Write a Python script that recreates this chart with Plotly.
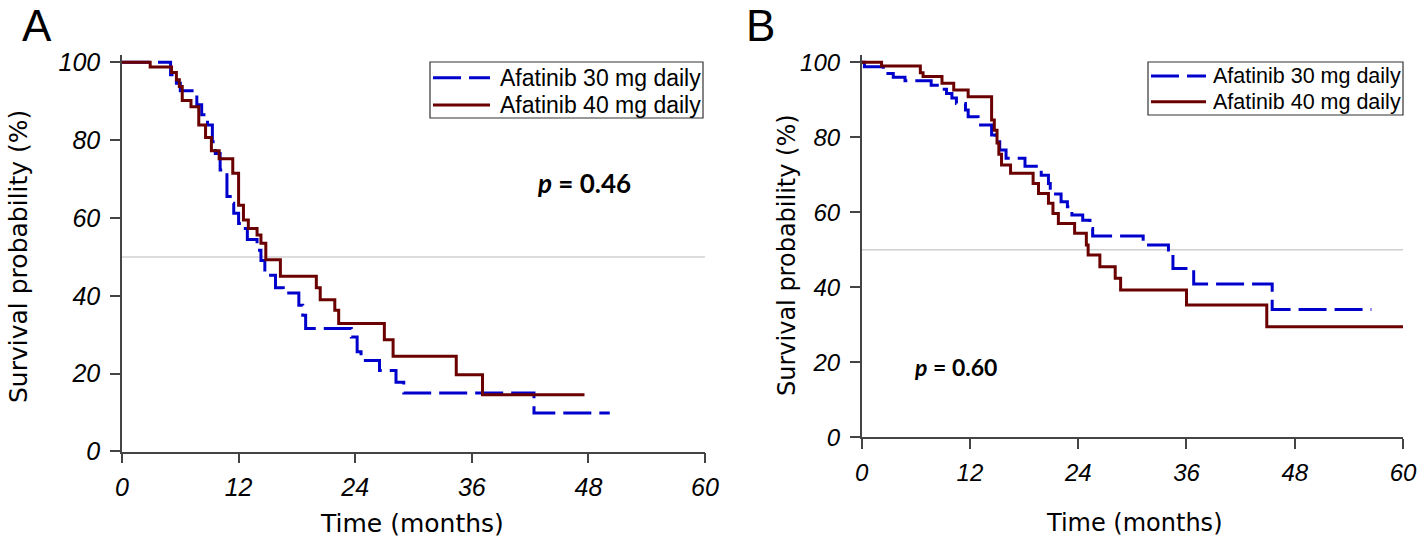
import plotly.graph_objects as go

# Panel A: months / survival (%)
a_t_30 = [0, 5.0, 5.6, 6.0, 7.7, 8.2, 8.8, 9.3, 9.6, 10.1, 10.8, 11.3, 11.5, 12.0, 12.4, 12.9,
          13.9, 14.3, 14.7, 15.8, 16.6, 18.2, 18.6, 18.9, 23.6, 24.2, 24.6, 26.5, 28.2, 29.0, 42.4, 50.2]
a_s_30 = [100, 96.8, 94.6, 92.7, 89.1, 86.5, 83.9, 79.6, 76.6, 72.3, 65.5, 63.8, 61.2, 58.6, 57.3, 54.5,
          51.7, 49.1, 45.3, 42.1, 40.7, 37.6, 35.0, 31.6, 29.4, 25.6, 23.4, 20.8, 17.8, 15.0, 9.9, 9.9]

a_t_40 = [0, 2.9, 5.1, 5.6, 5.9, 6.2, 7.1, 7.9, 8.6, 9.2, 10.0, 11.4, 12.0, 12.5, 13.0, 13.9,
          14.3, 14.8, 16.3, 20.0, 20.4, 21.9, 22.3, 27.0, 27.9, 34.4, 37.1, 47.6]
a_s_40 = [100, 98.8, 97.4, 95.5, 93.8, 90.2, 88.6, 83.9, 80.7, 77.3, 75.2, 71.5, 63.3, 59.5, 57.3, 55.6,
          53.5, 49.3, 45.0, 42.1, 39.0, 36.3, 32.9, 28.7, 24.5, 19.7, 14.6, 14.6]

# Panel B
b_t_30 = [0, 0.3, 2.4, 3.5, 4.8, 7.7, 8.7, 9.4, 10.0, 10.5, 11.5, 11.8, 12.9, 14.4, 14.8, 15.3, 16.0,
          18.1, 19.9, 20.7, 20.9, 22.1, 22.8, 23.3, 24.5, 25.3, 25.6, 31.2, 34.0, 34.5, 36.8, 45.5, 56.5]
b_s_30 = [100, 98.8, 97.0, 96.0, 95.1, 93.9, 92.8, 91.7, 90.5, 89.0, 87.3, 85.5, 83.3, 80.6, 79.3, 76.6, 74.4,
          72.3, 69.9, 67.7, 64.9, 62.8, 61.5, 59.3, 57.9, 55.7, 53.7, 51.3, 48.2, 45.0, 40.9, 34.1, 34.1]

b_t_40 = [0, 2.2, 6.5, 6.8, 8.9, 10.2, 11.8, 14.4, 14.7, 15.0, 15.2, 15.5, 16.5, 19.0, 19.6, 20.7,
          21.2, 21.8, 23.6, 24.9, 25.1, 26.4, 28.1, 28.7, 36.0, 44.9, 60]
b_s_40 = [100, 99.0, 97.2, 96.2, 94.4, 92.6, 90.8, 84.6, 81.9, 78.5, 75.5, 72.6, 70.4, 67.7, 65.0, 62.4,
          59.7, 57.0, 54.4, 51.3, 48.6, 45.5, 42.4, 39.3, 35.3, 29.5, 29.5]

x_ticks = [0, 12, 24, 36, 48, 60]
y_ticks = [0, 20, 40, 60, 80, 100]
names = ["Afatinib 30 mg daily", "Afatinib 40 mg daily"]
p_values = ["0.46", "0.60"]

BLUE = "#0000cc"
BROWN = "#6b0000"
DASH = "28px,8px"
W, H = 1418, 550


def px_x(v):
    return v / W


def px_y(v):
    return 1 - v / H


fig = go.Figure()

panels = [
    (a_t_30, a_s_30, a_t_40, a_s_40, "x", "y"),
    (b_t_30, b_s_30, b_t_40, b_s_40, "x2", "y2"),
]
for t30, s30, t40, s40, xa, ya in panels:
    fig.add_trace(go.Scatter(x=t30, y=s30, mode="lines", line_shape="hv", name=names[0],
                             line=dict(color=BLUE, width=3, dash=DASH),
                             xaxis=xa, yaxis=ya, showlegend=False))
    fig.add_trace(go.Scatter(x=t40, y=s40, mode="lines", line_shape="hv", name=names[1],
                             line=dict(color=BROWN, width=3),
                             xaxis=xa, yaxis=ya, showlegend=False))
    # median reference line
    fig.add_shape(type="line", x0=0, x1=60, y0=50, y1=50, xref=xa, yref=ya,
                  line=dict(color="#d0d0d0", width=1.5), layer="below")


def axis(size, **kw):
    d = dict(showgrid=False, zeroline=False, showline=True, linecolor="#444", linewidth=1.5,
             ticks="outside", ticklen=10, tickcolor="#444", tickwidth=1.5, automargin=False,
             tickfont=dict(family="Liberation Sans", size=size, color="black", style="italic"))
    d.update(kw)
    return d


# pixel geometry
ax_x0, ax_x1 = 122, 705
bx_x0, bx_x1 = 861.7, 1403
ay0, ay100 = 451.5, 62.3
by0, by100 = 437.3, 62.3
ytop = 102


def ydom(y0, y100):
    ppu = (y0 - y100) / 100
    top = y0 - ytop * ppu
    return [px_y(y0), px_y(top)]


fig.update_layout(
    width=W, height=H,
    margin=dict(l=0, r=0, t=0, b=0, autoexpand=False),
    paper_bgcolor="white", plot_bgcolor="white",
    showlegend=False,
    xaxis=axis(25, domain=[px_x(ax_x0), px_x(ax_x1)], range=[0, 60], tickvals=x_ticks, anchor="y",
               ticklabelstandoff=3),
    yaxis=axis(25, domain=ydom(ay0, ay100), range=[0, ytop], tickvals=y_ticks, anchor="x",
               ticklabelstandoff=5),
    xaxis2=axis(24, domain=[px_x(bx_x0), px_x(bx_x1)], range=[0, 60], tickvals=x_ticks, anchor="y2",
                ticklabelstandoff=3),
    yaxis2=axis(24, domain=ydom(by0, by100), range=[0, ytop], tickvals=y_ticks, anchor="x2",
                ticklabelstandoff=5),
)

# boxed legends (one per panel)
legends = [
    dict(box=(430, 62, 703, 118), rows=(77.7, 105), sym=(433, 490), tx=498, size=23),
    dict(box=(1148, 62, 1403, 115), rows=(76, 101.7), sym=(1151, 1206), tx=1211, size=21.5),
]
ann = []
for lg in legends:
    x0, y0, x1, y1 = lg["box"]
    fig.add_shape(type="rect", xref="paper", yref="paper", x0=px_x(x0), x1=px_x(x1),
                  y0=px_y(y0), y1=px_y(y1), line=dict(color="#333", width=1.2),
                  fillcolor="white", layer="above")
    for name, color, dash, ry in zip(names, [BLUE, BROWN], [DASH, "solid"], lg["rows"]):
        fig.add_shape(type="line", xref="paper", yref="paper", x0=px_x(lg["sym"][0]), x1=px_x(lg["sym"][1]),
                      y0=px_y(ry), y1=px_y(ry), line=dict(color=color, width=3, dash=dash))
        ann.append(dict(text=name, x=px_x(lg["tx"]), y=px_y(ry), xref="paper", yref="paper",
                        xanchor="left", yanchor="middle", showarrow=False,
                        font=dict(family="Liberation Sans", size=lg["size"], color="black")))

for letter, cx in [("A", 37), ("B", 760)]:
    ann.append(dict(text=letter, x=px_x(cx), y=1, xref="paper", yref="paper",
                    xanchor="center", yanchor="top", showarrow=False, borderpad=0,
                    font=dict(family="Liberation Sans", size=44, color="black")))
for cx, size in [(412, 25), (1134, 24)]:
    ann.append(dict(text="Time (months)", x=px_x(cx), y=px_y(523), xref="paper", yref="paper",
                    xanchor="center", yanchor="middle", showarrow=False,
                    font=dict(family="DejaVu Sans", size=size, color="black")))
for cx, cy, size in [(18, 257, 25), (787, 255, 24)]:
    ann.append(dict(text="Survival probability (%)", x=px_x(cx), y=px_y(cy), xref="paper", yref="paper",
                    xanchor="center", yanchor="middle", showarrow=False, textangle=-90,
                    font=dict(family="DejaVu Sans", size=size, color="black")))
for pv, (cx, cy), size in zip(p_values, [(584, 183), (956, 367)], [26, 23]):
    ann.append(dict(text=f"<b><i>p</i> = {pv}</b>", x=px_x(cx), y=px_y(cy), xref="paper", yref="paper",
                    xanchor="center", yanchor="middle", showarrow=False,
                    font=dict(family="Lato", size=size, color="black")))
fig.update_layout(annotations=ann)

fig.write_html("out.html", config={"displayModeBar": False},
               post_script="document.body.style.margin='0';")
